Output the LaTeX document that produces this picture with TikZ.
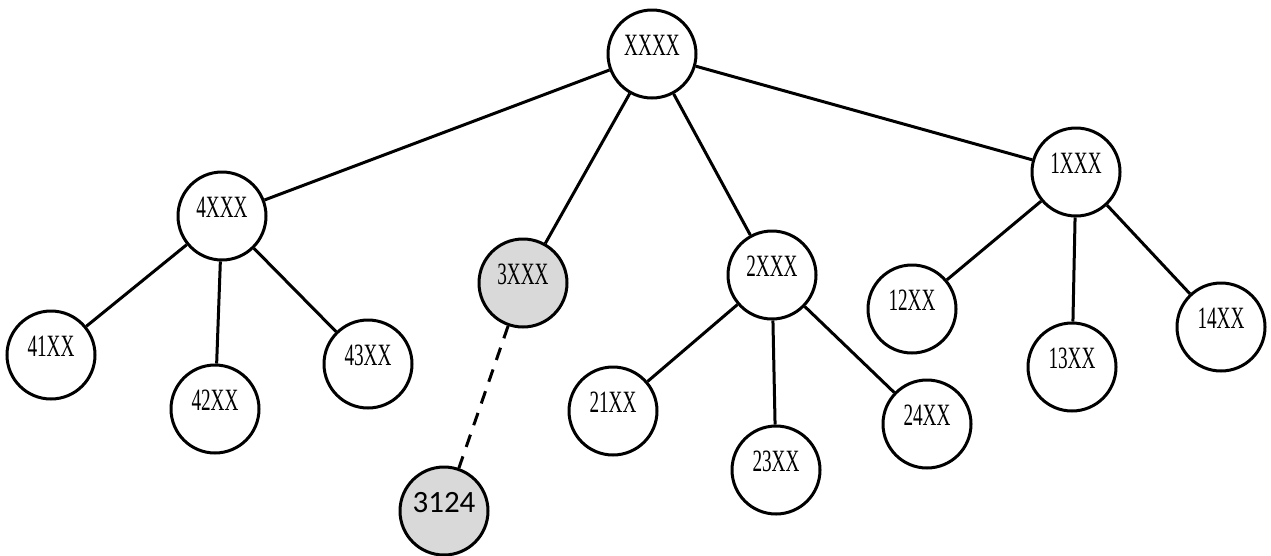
\documentclass[tikz,border=0pt]{standalone}
\usepackage{fontspec}
\setmainfont{Liberation Serif}[FakeStretch=0.62]
\newfontfamily\digitfont{Carlito}
\begin{document}
\begin{tikzpicture}[x=1pt, y=-1pt,
    vertex/.style={circle, draw, line width=3pt, minimum size=88pt, inner sep=0pt,
        text height=21pt, text depth=18pt, font=\fontsize{31}{33}\selectfont},
    picked/.style={vertex, fill=black!15},
    edge/.style={line width=3pt},
    guess/.style={edge, dash pattern=on 13pt off 10pt}]
    \useasboundingbox (0,0) rectangle (1271,555);
    \node[vertex] (root) at (652,54) {XXXX};
    \node[vertex] (n4) at (222,216) {4XXX};
    \node[picked] (n3) at (523,283) {3XXX};
    \node[vertex] (n2) at (772,275) {2XXX};
    \node[vertex] (n1) at (1076,172) {1XXX};
    \node[vertex] (n41) at (51,355) {41XX};
    \node[vertex] (n42) at (215,409) {42XX};
    \node[vertex] (n43) at (368,364) {43XX};
    \node[picked, font=\digitfont\fontsize{31}{33}\selectfont] (n3124) at (444,511) {3124};
    \node[vertex] (n21) at (613,411) {21XX};
    \node[vertex] (n23) at (776,470) {23XX};
    \node[vertex] (n24) at (927,424) {24XX};
    \node[vertex] (n12) at (912,309) {12XX};
    \node[vertex] (n13) at (1072,367) {13XX};
    \node[vertex] (n14) at (1221,327) {14XX};
    \draw[edge] (root) -- (n4);
    \draw[edge] (root) -- (n3);
    \draw[edge] (root) -- (n2);
    \draw[edge] (root) -- (n1);
    \draw[edge] (n4) -- (n41);
    \draw[edge] (n4) -- (n42);
    \draw[edge] (n4) -- (n43);
    \draw[guess] (n3) -- (n3124);
    \draw[edge] (n2) -- (n21);
    \draw[edge] (n2) -- (n23);
    \draw[edge] (n2) -- (n24);
    \draw[edge] (n1) -- (n12);
    \draw[edge] (n1) -- (n13);
    \draw[edge] (n1) -- (n14);
\end{tikzpicture}
\end{document}
